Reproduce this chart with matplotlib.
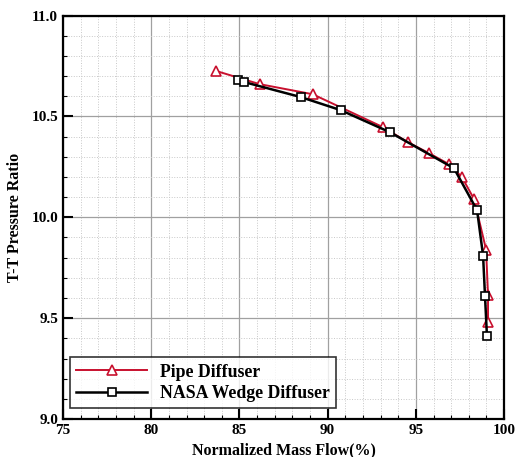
import matplotlib
matplotlib.use("Agg")
import matplotlib.pyplot as plt
from matplotlib.ticker import MultipleLocator, FormatStrFormatter

pipe_flow = [83.69, 86.14, 89.15, 93.13, 94.55, 95.74, 96.88, 97.61, 98.30, 98.98, 99.09, 99.09]
pipe_pr = [10.725, 10.66, 10.61, 10.447, 10.372, 10.318, 10.263, 10.199, 10.09, 9.84, 9.613, 9.479]

nasa_flow = [84.89, 85.28, 88.47, 90.74, 93.52, 97.16, 98.47, 98.81, 98.92, 99.03]
nasa_pr = [10.68, 10.67, 10.596, 10.531, 10.422, 10.243, 10.035, 9.81, 9.608, 9.41]

x_label = "Normalized Mass Flow(%)"
y_label = "T-T Pressure Ratio"

plt.rcParams['font.family'] = ['Liberation Serif', 'DejaVu Serif']
plt.rcParams['font.weight'] = 'bold'

fig = plt.figure(figsize=(5.17, 4.57), dpi=100)
ax = fig.add_axes([0.122, 0.083, 0.853, 0.883])

ax.plot(pipe_flow, pipe_pr, color='#c8102e', lw=1.4, marker='^', ms=7,
        mfc='white', mec='#c8102e', mew=1.2, label='Pipe Diffuser', zorder=3)
ax.plot(nasa_flow, nasa_pr, color='black', lw=1.8, marker='s', ms=5.2,
        mfc='white', mec='black', mew=1.2, label='NASA Wedge Diffuser', zorder=4)

ax.set_xlim(75, 100)
ax.set_ylim(9.0, 11.0)
ax.xaxis.set_major_locator(MultipleLocator(5))
ax.xaxis.set_minor_locator(MultipleLocator(1))
ax.yaxis.set_major_locator(MultipleLocator(0.5))
ax.yaxis.set_minor_locator(MultipleLocator(0.1))
ax.yaxis.set_major_formatter(FormatStrFormatter('%.1f'))

ax.grid(which='major', color='#a0a0a0', lw=0.9, ls='-')
ax.grid(which='minor', color='#c8c8c8', lw=0.7, ls=':')
ax.set_axisbelow(True)

ax.tick_params(which='major', direction='in', length=7, width=1.5, labelsize=11)
ax.tick_params(which='minor', direction='in', length=3, width=0.8)
for s in ax.spines.values():
    s.set_linewidth(1.6)

for lbl in ax.get_xticklabels() + ax.get_yticklabels():
    lbl.set_fontweight('bold')

ax.set_xlabel(x_label, fontsize=11.5, fontweight='bold', labelpad=4)
ax.set_ylabel(y_label, fontsize=11.5, fontweight='bold', labelpad=6)

leg = ax.legend(loc='lower left', fontsize=12.8, frameon=True, fancybox=False,
                edgecolor='black', borderpad=0.35, handlelength=4.0,
                handletextpad=0.7, labelspacing=0.25,
                bbox_to_anchor=(0.016, 0.027), borderaxespad=0.0)
leg.get_frame().set_linewidth(1.2)
for t in leg.get_texts():
    t.set_fontweight('bold')

fig.savefig('out.png', dpi=100)
